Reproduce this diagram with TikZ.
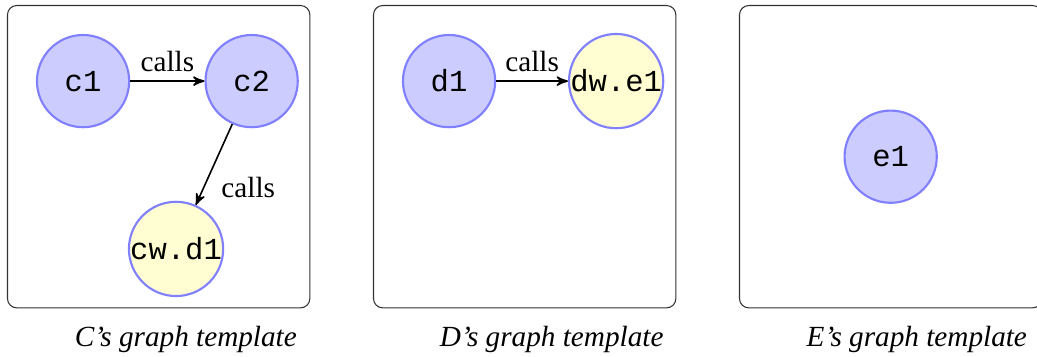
\documentclass[tikz,border=0pt]{standalone}
\usepackage{fontspec}
\setmainfont{Liberation Serif}
\setmonofont{Liberation Mono}
\usepackage{tikz}
\usetikzlibrary{arrows}
\tikzstyle{frame} = [rectangle, rounded corners=3.5pt, minimum width=4cm, minimum height=4cm,
    draw=black!80, thin]
\tikzstyle{func} = [circle, minimum size=1.22cm, inner sep=0pt, text centered,
    draw=blue!50, line width=0.8pt, fill=blue!20, font=\fontsize{11.5}{13}\ttfamily]
\tikzstyle{wrapped} = [func, fill=yellow!18]
\tikzstyle{caption} = [font=\fontsize{11}{13}\itshape]
\tikzstyle{arrow} = [line width=0.6pt,->,>=stealth']
\tikzstyle{lbl} = [font=\fontsize{11}{13}\selectfont]

\begin{document}
\begin{tikzpicture}
                \useasboundingbox (-0.099,0.073) rectangle (13.62,-4.637);
                % C
                \node (framec) [frame] at (2,-2) {};
                \node (c1) [func] at (1,-1) {c1};
                \node (c2) [func, right of=c1, xshift=1.23cm] {c2};
                \node (cwd1) [wrapped, below of=c2, xshift=-1cm, yshift=-1.22cm] {cw.d1};
                \draw [arrow] (c1) -- (c2) node[midway, above, lbl] {calls};
                \draw [arrow] (c2) -- (cwd1) node[pos=0.78, right, xshift=3pt, lbl] {calls};
                \node (capc) [caption] at (2.36,-4.42) {C’s graph template};
                % D
                \node (framed) [frame] at (6.842,-2) {};
                \node (d1) [func] at (5.842,-1) {d1};
                \node (dwe1) [wrapped, right of=d1, xshift=1.21cm] {dw.e1};
                \draw [arrow] (d1) -- (dwe1) node[midway, above, lbl] {calls};
                \node (capd) [caption] at (7.2,-4.42) {D’s graph template};
                % E
                \node (framee) [frame] at (11.684,-2) {};
                \node (e1) [func] at (11.684,-2) {e1};
                \node (cape) [caption] at (12.03,-4.42) {E’s graph template};
            \end{tikzpicture}
\end{document}
